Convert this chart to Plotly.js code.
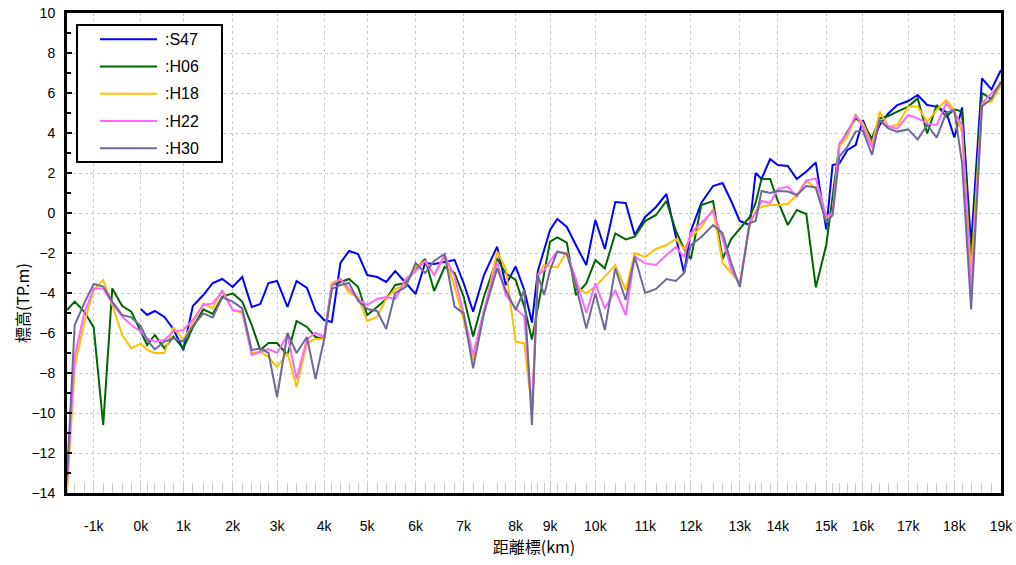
<!DOCTYPE html>
<html>
<head>
<meta charset="utf-8">
<script src="https://cdn.plot.ly/plotly-3.0.1.min.js"></script>
<style>html,body{margin:0;padding:0;background:#fff}#chart{width:1016px;height:565px}</style>
</head>
<body>
<div id="chart"></div>
<script>
// section positions along the river (km, as drawn)
const sections = [-1.63,-1.46,-1.25,-1.04,-0.83,-0.63,-0.41,-0.21,0,0.14,0.31,0.52,0.72,0.94,1.15,1.38,1.59,1.80,2.03,2.24,2.45,2.64,2.82,3.01,3.24,3.44,3.67,3.86,4.05,4.22,4.41,4.60,4.80,5.00,5.22,5.42,5.62,5.85,6.07,6.28,6.48,6.71,6.93,7.13,7.34,7.58,7.87,8.06,8.28,8.47,8.64,8.77,8.91,9.04,9.20,9.41,9.61,9.84,10.04,10.25,10.48,10.71,10.91,11.14,11.38,11.61,11.82,12.00,12.15,12.38,12.64,12.85,13.04,13.23,13.45,13.58,13.71,13.90,14.07,14.29,14.49,14.70,14.91,15.14,15.28,15.43,15.61,15.79,15.95,16.15,16.32,16.51,16.71,16.95,17.16,17.37,17.58,17.79,17.97,18.14,18.34,18.58,18.79,19.00];

// km marker positions and labels
const kmPos = [-1.04,0,0.94,2.03,3.01,4.05,5.00,6.07,7.13,8.28,9.04,10.04,11.14,12.15,13.23,14.07,15.14,15.95,16.95,17.97,19.00];
const kmLabels = ["-1k","0k","1k","2k","3k","4k","5k","6k","7k","8k","9k","10k","11k","12k","13k","14k","15k","16k","17k","18k","19k"];

const seriesNames = ["S47","H06","H18","H22","H30"];
const seriesColors = ["#0000ff","#006600","#ffc000","#ff66ff","#6b6b99"];

const S47 = [null,null,null,null,null,null,null,null,
-4.8,-5.1,-4.9,-5.2,-5.8,-6.85,-4.65,-4.1,-3.5,-3.3,-3.7,-3.2,-4.7,-4.55,-3.5,-3.4,-4.7,-3.4,-3.75,-4.9,-5.35,-5.45,
-2.5,-1.9,-2.05,-3.1,-3.2,-3.45,-2.9,-3.5,-4.05,-2.5,-2.55,-2.45,-2.35,-3.5,-4.93,-3.1,-1.68,-3.6,-2.68,-3.85,
-5.48,-2.9,-1.8,-0.85,-0.3,-0.7,-1.6,-2.6,-0.35,-1.8,0.55,0.5,-1.1,-0.2,0.3,0.95,-1.2,-3.0,-0.9,0.5,
1.35,1.5,0.6,-0.4,-0.6,2.0,1.7,2.7,2.4,2.35,1.7,2.07,2.52,-0.82,2.4,2.48,3.15,3.4,4.65,3.48,
4.4,4.98,5.4,5.6,5.9,5.4,5.32,5.05,3.78,5.28,-1.6,6.73,6.18,7.15];

const H06 = [-4.85,-4.43,-4.93,-5.72,-10.6,-3.77,-4.65,-4.93,-5.93,-6.6,-6.1,-6.77,-6.18,-6.77,-5.72,-4.82,-5.05,-4.18,-4.02,-4.43,
-5.6,-6.85,-6.5,-6.5,-7.1,-5.4,-5.7,-6.2,-6.3,-3.6,-3.45,-3.3,-3.7,-5.1,-4.7,-4.3,-3.6,-3.5,-2.8,-2.3,
-3.9,-2.7,-3.0,-4.18,-6.18,-4.18,-2.27,-3.02,-3.35,-4.68,-6.32,-4.68,-3.0,-1.43,-1.22,-1.48,-4.1,-3.52,-2.35,-2.77,
-1.02,-1.32,-1.18,-0.4,-0.1,0.6,-0.9,-1.8,-2.3,0.4,0.6,-2.3,-1.3,-0.8,-0.2,0.5,1.7,1.7,0.6,-0.6,
0.15,-0.05,-3.72,-1.6,0.8,3.4,4.07,4.73,4.48,3.73,4.73,4.85,5.07,5.32,5.73,3.98,5.4,4.82,5.18,5.07,
-2.5,6.0,5.7,6.5];

const H18 = [-14,-7.7,-5.5,-3.85,-3.35,-4.6,-6.1,-6.77,-6.52,-6.85,-7.0,-7.0,-5.72,-6.35,-5.5,-4.52,-4.77,-3.85,-4.85,-5.0,
-7.0,-6.93,-7.2,-7.7,-7.0,-8.7,-6.5,-6.3,-6.3,-3.5,-3.3,-4.0,-4.2,-5.4,-5.2,-4.3,-3.8,-3.6,-2.7,-2.4,
-3.1,-2.2,-3.68,-5.35,-7.35,-5.02,-1.93,-2.77,-6.43,-6.52,-9.85,-3.1,-2.6,-2.65,-2.72,-1.93,-3.68,-4.02,-3.68,-3.18,
-2.6,-3.85,-2.02,-2.2,-1.8,-1.6,-1.3,-1.8,-1.2,-0.7,0.2,-2.5,-3.0,-3.5,-0.6,0.1,0.3,0.4,0.4,0.45,
0.9,1.62,1.23,-0.27,0.0,3.32,3.82,4.9,4.48,3.4,5.07,4.32,4.4,5.32,5.32,4.57,5.15,5.65,5.15,4.0,
-3.0,5.48,5.57,6.4];

const H22 = [-13.5,-7.2,-5.02,-3.77,-3.77,-4.52,-5.18,-5.6,-5.93,-6.27,-6.43,-6.35,-5.93,-5.85,-5.35,-4.6,-4.52,-3.93,-4.85,-4.93,
-7.1,-6.93,-6.8,-7.0,-6.1,-8.3,-6.3,-6.0,-6.2,-3.6,-3.3,-3.8,-4.3,-4.6,-4.3,-4.2,-4.3,-3.3,-2.9,-2.4,
-3.1,-2.1,-3.18,-5.02,-7.1,-4.85,-2.43,-4.1,-4.77,-5.18,-9.85,-3.1,-2.85,-2.4,-1.93,-2.02,-3.3,-5.0,-3.52,-4.77,
-3.85,-5.1,-2.18,-2.52,-2.6,-2.1,-1.7,-2.2,-1.0,-0.5,0.1,-1.3,-2.8,-3.6,-0.4,0.0,0.6,0.5,1.2,1.32,
0.82,1.62,1.73,-0.18,0.0,3.48,4.0,4.9,4.3,3.28,4.65,4.32,4.23,4.9,4.73,4.48,4.4,5.48,4.98,4.4,
-4.0,5.48,5.98,6.48];

const H30 = [-13.2,-5.6,-4.52,-3.55,-3.68,-4.43,-5.1,-5.22,-5.65,-6.35,-6.82,-6.43,-6.27,-6.43,-5.65,-5.02,-5.22,-4.22,-4.43,-4.77,
-6.85,-6.77,-7.0,-9.2,-6.0,-7.0,-6.2,-8.3,-6.3,-3.8,-3.6,-3.5,-4.4,-4.8,-4.9,-5.8,-4.0,-3.7,-2.5,-3.0,
-2.4,-2.05,-4.68,-5.02,-7.77,-5.02,-2.77,-3.85,-4.85,-3.85,-10.6,-3.1,-4.1,-2.85,-1.93,-2.05,-3.6,-5.77,-4.02,-5.85,
-2.77,-4.35,-2.18,-4.0,-3.8,-3.3,-3.4,-3.0,-1.6,-1.2,-0.6,-1.0,-2.5,-3.7,-0.5,-0.4,1.1,1.0,1.1,1.07,
0.9,1.35,1.28,-0.48,-0.1,2.82,3.32,4.07,4.12,2.9,4.65,4.23,4.07,4.18,3.68,4.4,3.77,5.02,5.15,2.5,
-4.82,5.32,5.73,6.57];

const seriesValues = [S47,H06,H18,H22,H30];

const FONT = '"Liberation Sans", Arial, "Noto Sans CJK JP", sans-serif';
const CJK = '"Noto Sans CJK JP", sans-serif';

// plot area in pixels (for placing the legend box)
const W = 1016, H = 565, ML = 67, MR = 15, MT = 13, MB = 72;
const PW = W - ML - MR, PH = H - MT - MB;
const px2x = p => (p - ML) / PW;
const px2y = p => (H - MB - p) / PH;

const traces = seriesValues.map((vals, k) => ({
  type: 'scatter',
  mode: 'lines',
  x: sections,
  y: vals,
  name: ':' + seriesNames[k],
  line: {color: seriesColors[k], width: 2},
  connectgaps: false,
  showlegend: false,
  hoverinfo: 'x+y+name'
}));

// custom legend (box, line samples, labels)
const legBox = {x0: 77, x1: 222, y0: 25, y1: 162};
const legRow0 = 39.3, legRowStep = 27.25;
const shapes = [{
  type: 'rect', xref: 'paper', yref: 'paper', layer: 'above',
  x0: px2x(legBox.x0), x1: px2x(legBox.x1), y0: px2y(legBox.y1), y1: px2y(legBox.y0),
  line: {color: '#000', width: 2}, fillcolor: '#fff'
}];
const annotations = [];
seriesNames.forEach((nm, k) => {
  const yy = px2y(legRow0 + k * legRowStep);
  shapes.push({
    type: 'line', xref: 'paper', yref: 'paper', layer: 'above',
    x0: px2x(100), x1: px2x(157), y0: yy, y1: yy,
    line: {color: seriesColors[k], width: 2}
  });
  annotations.push({
    text: ':' + nm, xref: 'paper', yref: 'paper',
    x: px2x(163), y: yy, xanchor: 'left', yanchor: 'middle',
    showarrow: false, font: {family: FONT, size: 16, color: '#000'}
  });
});
annotations.push({
  text: '標高(TP.m)',
  xref: 'paper', yref: 'paper',
  x: px2x(22), y: px2y(303),
  xanchor: 'center', yanchor: 'middle',
  textangle: -90,
  showarrow: false,
  font: {family: CJK, size: 16, color: '#000'}
});

const layout = {
  width: W,
  height: H,
  margin: {l: ML, r: MR, t: MT, b: MB},
  paper_bgcolor: '#fff',
  plot_bgcolor: '#fff',
  font: {family: FONT, size: 14, color: '#000'},
  showlegend: false,
  xaxis: {
    type: 'linear',
    range: [-1.63, 19.0],
    tickmode: 'array',
    tickvals: kmPos,
    ticktext: kmLabels,
    ticks: 'inside',
    ticklen: 10,
    tickcolor: '#cccccc',
    tickwidth: 1,
    ticklabelstandoff: 18,
    tickfont: {family: FONT, size: 14, color: '#000'},
    showgrid: true,
    gridcolor: '#c8c8c8',
    griddash: 'dot',
    gridwidth: 1,
    zeroline: false,
    showline: true,
    linecolor: '#000',
    linewidth: 3,
    mirror: true,
    minor: {
      tickmode: 'array',
      tickvals: sections,
      ticks: 'inside',
      ticklen: 10,
      tickcolor: '#cccccc',
      tickwidth: 1,
      showgrid: false
    },
    title: {
      text: '距離標(km)',
      font: {family: CJK, size: 16, color: '#000'},
      standoff: 10
    }
  },
  yaxis: {
    range: [-14, 10],
    tickmode: 'linear',
    tick0: -14,
    dtick: 2,
    ticks: 'inside',
    ticklen: 5,
    tickwidth: 2,
    tickcolor: '#000',
    ticklabelstandoff: 6,
    tickfont: {family: FONT, size: 14, color: '#000'},
    showgrid: true,
    gridcolor: '#c8c8c8',
    griddash: 'dot',
    gridwidth: 1,
    zeroline: false,
    showline: true,
    linecolor: '#000',
    linewidth: 3,
    mirror: true,
    minor: {
      dtick: 1,
      ticks: 'inside',
      ticklen: 4,
      tickwidth: 2,
      tickcolor: '#000',
      showgrid: false
    }
  },
  shapes: shapes,
  annotations: annotations
};

Plotly.newPlot('chart', traces, layout, {displayModeBar: false, responsive: false});
</script>
</body>
</html>
